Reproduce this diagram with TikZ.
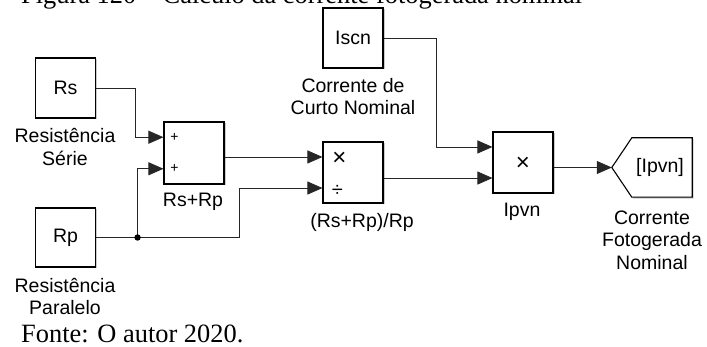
\documentclass[tikz,border=0pt]{standalone}
\usepackage{fontspec}
\setmainfont{Liberation Serif}
\newfontfamily\simfont{Liberation Sans}
\usetikzlibrary{arrows.meta,calc,shadows}

\begin{document}
\begin{tikzpicture}[x=1pt,y=-1pt,
  blk/.style={draw=black,line width=1.1pt,fill=white,inner sep=0pt,
    minimum width=60pt,minimum height=60pt,font=\simfont\fontsize{19.5}{22.5}\selectfont,
    drop shadow={shadow xshift=1.5pt,shadow yshift=-1.5pt,fill=black!45,opacity=0.45}},
  wire/.style={draw=black!85,line width=0.8pt},
  sig/.style={wire,-{Triangle[length=15pt,width=13pt]}},
  label/.style={font=\simfont\fontsize{19.5}{22.5}\selectfont,align=center,inner sep=0pt},
  sign/.style={font=\simfont\fontsize{14}{14}\selectfont,inner sep=0pt},
  op/.style={font=\simfont\fontsize{24}{24}\selectfont,inner sep=0pt},
  serif/.style={font=\fontsize{26.4}{30}\selectfont,inner sep=0pt},
]
\useasboundingbox (0,0) rectangle (707,347);
\clip (0,0) rectangle (707,347);

\node[serif,anchor=base west] (title) at (21,4) {Figura 120 -- Cálculo da corrente fotogerada nominal};
\node[serif,anchor=base west] (fonte) at (21,342.5) {Fonte: O autor 2020.};

% blocos
\node[blk] (rs) at (65.5,88) {Rs};
\node[blk,minimum height=59pt] (rp) at (65.5,237.5) {Rp};
\node[blk,minimum height=62pt] (sum) at (194,153) {};
\node[blk,minimum height=61pt] (prod) at (353,172.5) {};
\node[blk] (iscn) at (353,38) {Iscn};
\node[blk,minimum height=61pt] (ipvn) at (523,162.5) {};
\node[inner sep=0pt,minimum width=80pt,minimum height=59pt] (goto) at (652,167.5) {};
\draw[line width=1.1pt,fill=white,
  drop shadow={shadow xshift=1.5pt,shadow yshift=-1.5pt,fill=black!45,opacity=0.45}]
  (goto.west) -- ([xshift=20pt]goto.north west) -- (goto.north east)
  -- (goto.south east) -- ([xshift=20pt]goto.south west) -- cycle;
\node[label] (gototxt) at ([xshift=8pt]goto.center) {[Ipvn]};

% portas de entrada
\coordinate (s1) at ($(sum.north west)!0.25!(sum.south west)$);
\coordinate (s2) at ($(sum.north west)!0.75!(sum.south west)$);
\coordinate (p1) at ($(prod.north west)!0.25!(prod.south west)$);
\coordinate (p2) at ($(prod.north west)!0.75!(prod.south west)$);
\coordinate (i1) at ($(ipvn.north west)!0.25!(ipvn.south west)$);
\coordinate (i2) at ($(ipvn.north west)!0.75!(ipvn.south west)$);

\node[sign] at ([xshift=11pt]s1) {+};
\node[sign] at ([xshift=11pt]s2) {+};
\node[op] at ([xshift=17pt,yshift=-2pt]p1) {×};
\node[op,font=\simfont\fontsize{20}{20}\selectfont] at ([xshift=15pt,yshift=-3pt]p2) {÷};
\node[op] at ([yshift=-1pt]ipvn.center) {×};

% rotulos
\node[label] (rslbl) at (65,147) {Resistência\\Série};
\node[label] (rplbl) at (65,296.5) {Resistência\\Paralelo};
\node[label] (sumlbl) at (193,202) {Rs+Rp};
\node[label] (prodlbl) at (362,222) {(Rs+Rp)/Rp};
\node[label] (iscnlbl) at (353,96.5) {Corrente de\\Curto Nominal};
\node[label] (ipvnlbl) at (522,212) {Ipvn};
\node[label] (gotolbl) at (652,240) {Corrente\\Fotogerada\\Nominal};

% ligacoes
\coordinate (jn) at ($(rp.east)+(41.5,0)$);
\draw[sig] (rs.east) -- ++(39,0) |- (s1);
\draw[wire] (rp.east) -- (jn);
\draw[sig] (jn) |- (s2);
\draw[sig] (jn) -- ++(102,0) |- (p2);
\fill[black] (jn) circle (3.2pt);
\draw[sig] (sum.east |- p1) -- (p1);
\draw[sig] (iscn.east) -- ++(53,0) |- (i1);
\draw[sig] (prod.east |- i2) -- (i2);
\draw[sig] (ipvn.east |- goto.west) -- (goto.west);

\end{tikzpicture}
\end{document}
